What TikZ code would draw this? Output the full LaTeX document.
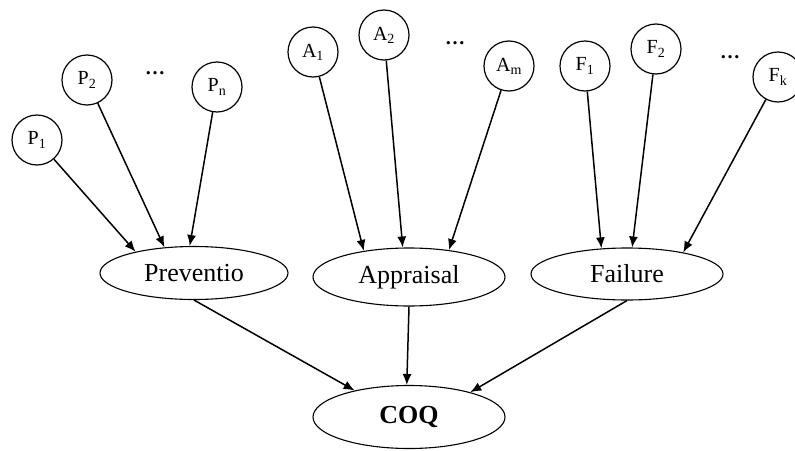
\documentclass[tikz,border=0pt]{standalone}
\usepackage{fontspec}
\setmainfont{Liberation Serif}
\usetikzlibrary{arrows.meta,shapes.geometric}
\tikzset{
  leaf/.style={circle,draw,line width=1.2pt,minimum size=50pt,inner sep=0pt,font=\fontsize{20}{22}\selectfont},
  cat/.style={ellipse,draw,line width=1.1pt,minimum width=190pt,inner sep=0pt,font=\fontsize{26}{28}\selectfont},
  dots/.style={font=\fontsize{20}{22}\selectfont\bfseries,inner sep=0pt},
  arr/.style={line width=1.5pt,-{Latex[length=11pt,width=9pt]}}
}
\begin{document}
\begin{tikzpicture}[x=1pt,y=-1pt]
\useasboundingbox (0,0) rectangle (795,450);
% leaves
\node[leaf] (p1) at (37,140) {P\textsubscript{1}};
\node[leaf] (p2) at (87,80) {P\textsubscript{2}};
\node[dots] (pd) at (155,73) {…};
\node[leaf] (pn) at (217,87) {P\textsubscript{n}};
\node[leaf] (a1) at (313,52) {A\textsubscript{1}};
\node[leaf] (a2) at (384,35) {A\textsubscript{2}};
\node[dots] (ad) at (455,43) {…};
\node[leaf] (am) at (509,66) {A\textsubscript{m}};
\node[leaf] (f1) at (585,66) {F\textsubscript{1}};
\node[leaf] (f2) at (656,49) {F\textsubscript{2}};
\node[dots] (fd) at (730,57) {…};
\node[leaf] (fk) at (778,77) {F\textsubscript{k}};
% categories
\node[cat,minimum width=188pt,minimum height=53pt] (prev) at (194,273) {Preventio};
\node[cat,minimum width=192pt,minimum height=58pt] (appr) at (409,277) {Appraisal};
\node[cat,minimum width=192pt,minimum height=52pt] (fail) at (627,274) {Failure};
\node[cat,minimum width=192pt,minimum height=63pt,font=\fontsize{26}{28}\selectfont\bfseries] (coq) at (409,417) {COQ};
% connectors
\draw[arr] (p1) -- (prev.160);
\draw[arr] (p2) -- (prev.139);
\draw[arr] (pn) -- (prev.99);
\draw[arr] (a1) -- (appr.150);
\draw[arr] (a2) -- (appr.102);
\draw[arr] (am) -- (appr.34);
\draw[arr] (f1) -- (fail.135);
\draw[arr] (f2) -- (fail.79);
\draw[arr] (fk) -- (fail.21);
\draw[arr] (prev.south) -- (coq.154);
\draw[arr] (appr.south) -- (coq.94);
\draw[arr] (fail.south) -- (coq.22);
\end{tikzpicture}
\end{document}
